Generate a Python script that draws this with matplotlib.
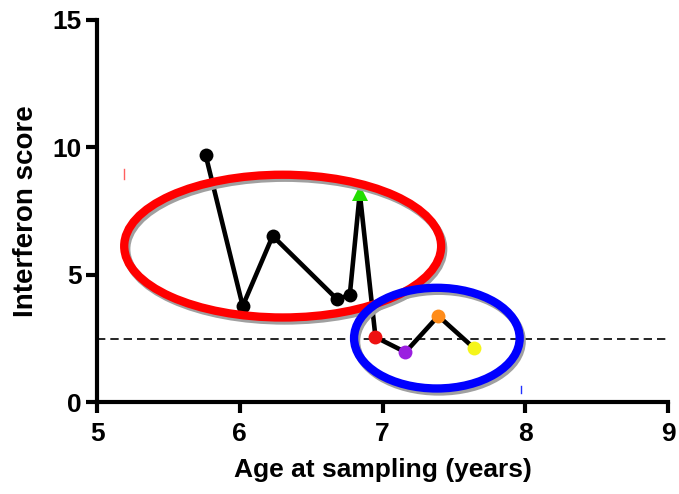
import matplotlib
matplotlib.use('Agg')
import matplotlib.pyplot as plt
import matplotlib.transforms as mtransforms
from matplotlib.patches import Ellipse

plt.rcParams['font.family'] = ['Liberation Sans', 'DejaVu Sans']
plt.rcParams['font.weight'] = 'bold'

# data
age = [5.76, 6.02, 6.23, 6.68, 6.77, 6.84, 6.95, 7.16, 7.39, 7.64]
score = [9.70, 3.77, 6.52, 4.04, 4.20, 8.20, 2.55, 1.96, 3.38, 2.12]
marker_colors = ['black'] * 5 + ['#22dd00', '#ee1111', '#9a1fe0', '#ff8c1a', '#f5f51a']
marker_shapes = ['o'] * 5 + ['^'] + ['o'] * 4
threshold = 2.47

x_ticks = [5, 6, 7, 8, 9]
y_ticks = [0, 5, 10, 15]

fig = plt.figure(figsize=(6.79, 4.94), dpi=100)
ax = fig.add_axes([0.143, 0.186, 0.841, 0.774])

# dashed threshold
ax.axhline(threshold, color='black', lw=1.2, ls=(0, (5, 3)), zorder=1)

# the line and its points
ax.plot(age, score, color='black', lw=3.3, zorder=3, solid_capstyle='round')
for xx, yy, c, m in zip(age, score, marker_colors, marker_shapes):
    ax.plot(xx, yy, marker=m, color=c, ms=10 if m == 'o' else 11, zorder=4,
            markeredgewidth=0)

# circled groups with a grey shadow
shadow = mtransforms.offset_copy(ax.transData, fig=fig, x=2, y=-3, units='dots')
for (cx, cy, w, h, col) in [(6.30, 6.12, 2.22, 5.6, '#ff0000'),
                            (7.38, 2.51, 1.16, 3.95, '#0000ff')]:
    ax.add_patch(Ellipse((cx, cy), w, h, fill=False, lw=6, ec='#a0a0a0',
                         transform=shadow, zorder=5, clip_on=False))
    ax.add_patch(Ellipse((cx, cy), w, h, fill=False, lw=6, ec=col,
                         zorder=6, clip_on=False))

# small stray marks
ax.plot([5.19, 5.19], [8.75, 9.15], color='#ff6060', lw=1, zorder=2)
ax.plot([7.97, 7.97], [0.35, 0.65], color='#2030ff', lw=1, zorder=2)

ax.set_xlim(5, 9)
ax.set_ylim(0, 15)
ax.set_xticks(x_ticks)
ax.set_yticks(y_ticks)
for s in ['top', 'right']:
    ax.spines[s].set_visible(False)
for s in ['left', 'bottom']:
    ax.spines[s].set_linewidth(3)
ax.tick_params(width=3, length=8, labelsize=19, pad=3)
ax.tick_params(axis='x', pad=6)
for lab in ax.get_xticklabels() + ax.get_yticklabels():
    lab.set_fontweight('bold')

ax.set_xlabel('Age at sampling (years)', fontsize=19, fontweight='bold', labelpad=9)
ax.set_ylabel('Interferon score', fontsize=20, fontweight='bold', labelpad=10)

fig.savefig('out.png', dpi=100)
